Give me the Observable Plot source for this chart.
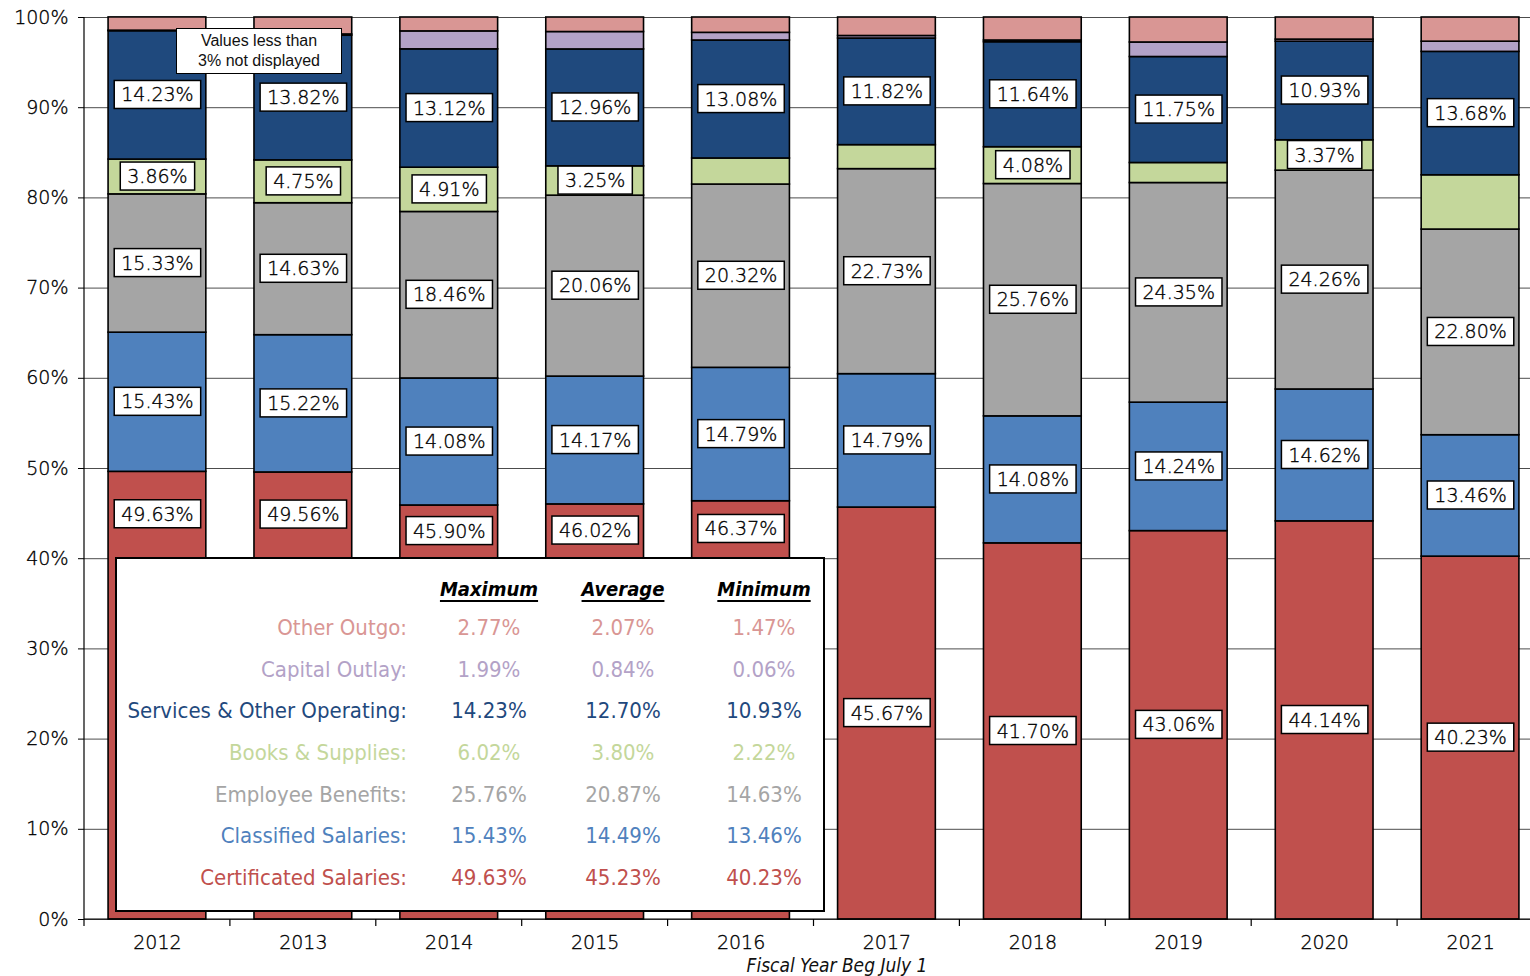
<!DOCTYPE html>
<html>
<head>
<meta charset="utf-8">
<script src="https://cdn.jsdelivr.net/npm/d3@7"></script>
<script src="https://cdn.jsdelivr.net/npm/@observablehq/plot@0.6"></script>
<style>
  body { margin: 0; background: #fff; }
  #wrap { position: relative; width: 1530px; height: 976px; overflow: hidden; }
  #wrap svg { position: absolute; left: 0; top: 0; }
  #wrap svg text { stroke: #000; stroke-width: 0.35px; }
  #note { position: absolute; left: 176px; top: 28px; width: 166px; height: 46px; box-sizing: border-box;
          border: 1.5px solid #000; background: #fff; font-family: "Liberation Sans", Arial, sans-serif;
          font-size: 16px; line-height: 20px; text-align: center; padding-top: 2px; color: #111; }
  #legend { position: absolute; left: 115px; top: 557px; width: 710px; height: 355px; box-sizing: border-box;
            border: 2.5px solid #000; background: #fff; font-family: "DejaVu Sans Condensed", "DejaVu Sans", sans-serif; font-weight: 300; }
  #legend .row { position: absolute; left: 0; width: 100%; height: 30px; line-height: 30px; font-size: 22px; }
  #legend .lab { position: absolute; right: 416px; text-align: right; white-space: nowrap; }
  #legend .val { position: absolute; width: 120px; margin-left: -60px; text-align: center; white-space: nowrap; }
  #legend .hdr { font-weight: bold; font-style: italic; color: #000; font-size: 20px; text-decoration: underline; text-decoration-thickness: 2px; text-underline-offset: 4px; }
  #xtitle { position: absolute; left: 737px; width: 200px; top: 954px; text-align: center; font-family: "DejaVu Sans Condensed", "DejaVu Sans", sans-serif;
            font-style: italic; font-size: 19px; color: #111; }
</style>
</head>
<body>
<div id="wrap"></div>
<script>
// ---- data ----
const years = ["2012","2013","2014","2015","2016","2017","2018","2019","2020","2021"];
const categories = ["Certificated Salaries","Classified Salaries","Employee Benefits","Books & Supplies","Services & Other Operating","Capital Outlay","Other Outgo"];
const colors = ["#C0504D","#4F81BD","#A5A5A5","#C4D79B","#1F497D","#B3A2C7","#D99694"];
const certificated = [49.63,49.56,45.90,46.02,46.37,45.67,41.70,43.06,44.14,40.23];
const classified   = [15.43,15.22,14.08,14.17,14.79,14.79,14.08,14.24,14.62,13.46];
const benefits     = [15.33,14.63,18.46,20.06,20.32,22.73,25.76,24.35,24.26,22.80];
const books        = [3.86,4.75,4.91,3.25,2.89,2.66,4.08,2.22,3.37,6.02];
const services     = [14.23,13.82,13.12,12.96,13.08,11.82,11.64,11.75,10.93,13.68];
const capital      = [0.06,0.14,1.99,1.93,0.85,0.28,0.19,1.61,0.23,1.13];
const other        = [1.47,1.88,1.54,1.61,1.70,2.05,2.55,2.77,2.45,2.68];
const series = [certificated, classified, benefits, books, services, capital, other];

// legend statistics (same order as categories)
const statMax = [49.63,15.43,25.76,6.02,14.23,1.99,2.77];
const statAvg = [45.23,14.49,20.87,3.80,12.70,0.84,2.07];
const statMin = [40.23,13.46,14.63,2.22,10.93,0.06,1.47];
const statHeaders = ["Maximum","Average","Minimum"];
const labelThreshold = 3;
const hiddenLabels = [["2021","Books & Supplies"]]; // label absent in the reference
const noteLines = ["Values less than","3% not displayed"];
const xTitle = "Fiscal Year Beg July 1";

// years whose lower labels sit above the legend box, and the legend's top in value units
const legendYears = years.slice(0, 5);
const legendTop = 40.13;

const stackData = categories.flatMap((cat, i) => years.map((year, j) => ({year, cat, value: series[i][j]})));

const labels = [];
years.forEach((year, j) => {
  let base = 0;
  categories.forEach((cat, i) => {
    const v = series[i][j];
    const hidden = hiddenLabels.some(([y, c]) => y === year && c === cat);
    if (v >= labelThreshold && !hidden) {
      let lo = base, hi = base + v;
      if (legendYears.includes(year) && lo < legendTop) lo = Math.min(legendTop, hi);
      labels.push({year, cat, value: v, mid: (lo + hi) / 2});
    }
    base += v;
  });
});

const wrap = document.getElementById("wrap");
const chart = Plot.plot({
  width: 1530, height: 976,
  marginTop: 17, marginBottom: 57, marginLeft: 84, marginRight: 0,
  style: {fontFamily: "'DejaVu Sans', sans-serif", fontSize: "19px", fontWeight: 300, color: "#000", background: "transparent"},
  x: {domain: years, range: [84, 1543], paddingInner: 0.33, paddingOuter: 0.165, round: false},
  y: {domain: [0, 100]},
  color: {domain: categories, range: colors},
  marks: [
    Plot.gridY(d3.range(0, 101, 10), {stroke: "#000", strokeOpacity: 0.7, strokeWidth: 1}),
    Plot.axisY(d3.range(0, 101, 10), {tickFormat: d => d + "%", tickSize: 6, tickPadding: 10, fontSize: 19, label: null, stroke: "#000"}),
    Plot.axisX({tickSize: 0, tickPadding: 16, fontSize: 19, label: null}),
    Plot.barY(stackData, Plot.stackY({x: "year", y: "value", fill: "cat", z: "cat", order: categories, stroke: "#000", strokeWidth: 1.6})),
    Plot.text(labels, {x: "year", y: "mid", text: d => d.value.toFixed(2) + "%", fontSize: 19, fill: "#000"})
  ]
});
wrap.appendChild(chart);

// white boxes behind value labels
d3.select(chart).selectAll('g[aria-label="text"] text').each(function () {
  const b = this.getBBox();
  d3.select(this.parentNode).insert("rect", () => this)
    .attr("x", b.x - 7).attr("y", b.y + b.height / 2 - 14)
    .attr("width", b.width + 14).attr("height", 28)
    .attr("transform", this.getAttribute("transform"))
    .attr("fill", "#fff").attr("stroke", "#000").attr("stroke-width", 1.5);
});

// left axis line and tick marks at band boundaries
const xs = chart.scale("x"), ys = chart.scale("y");
const gap = (xs.step - xs.bandwidth) / 2;
const bounds = years.map(y => xs.apply(y) - gap).concat([xs.apply(years[years.length - 1]) + xs.bandwidth + gap]);
const g = d3.select(chart).append("g").attr("stroke", "#000").attr("stroke-width", 1.2);
g.append("line").attr("x1", bounds[0]).attr("x2", bounds[0]).attr("y1", ys.apply(100)).attr("y2", ys.apply(0));
g.append("line").attr("x1", bounds[0]).attr("x2", 1530).attr("y1", ys.apply(0)).attr("y2", ys.apply(0));
bounds.forEach(bx => g.append("line").attr("x1", bx).attr("x2", bx).attr("y1", ys.apply(0)).attr("y2", ys.apply(0) + 7));

// note box
const note = document.createElement("div");
note.id = "note";
note.innerHTML = noteLines.join("<br>");
wrap.appendChild(note);

// legend table
const legend = document.createElement("div");
legend.id = "legend";
const colCenters = [372, 506, 647];
const hdr = document.createElement("div");
hdr.className = "row";
hdr.style.top = "15px";
statHeaders.forEach((h, k) => {
  const s = document.createElement("span");
  s.className = "val hdr"; s.style.left = colCenters[k] + "px"; s.textContent = h;
  hdr.appendChild(s);
});
legend.appendChild(hdr);
const order = categories.map((c, i) => i).reverse();
order.forEach((i, r) => {
  const row = document.createElement("div");
  row.className = "row";
  row.style.top = (54 + r * 41.67) + "px";
  row.style.color = colors[i];
  const lab = document.createElement("span");
  lab.className = "lab"; lab.textContent = categories[i] + ":";
  row.appendChild(lab);
  [statMax[i], statAvg[i], statMin[i]].forEach((v, k) => {
    const s = document.createElement("span");
    s.className = "val"; s.style.left = colCenters[k] + "px"; s.textContent = v.toFixed(2) + "%";
    row.appendChild(s);
  });
  legend.appendChild(row);
});
wrap.appendChild(legend);

const xt = document.createElement("div");
xt.id = "xtitle"; xt.textContent = xTitle;
wrap.appendChild(xt);
</script>
</body>
</html>
